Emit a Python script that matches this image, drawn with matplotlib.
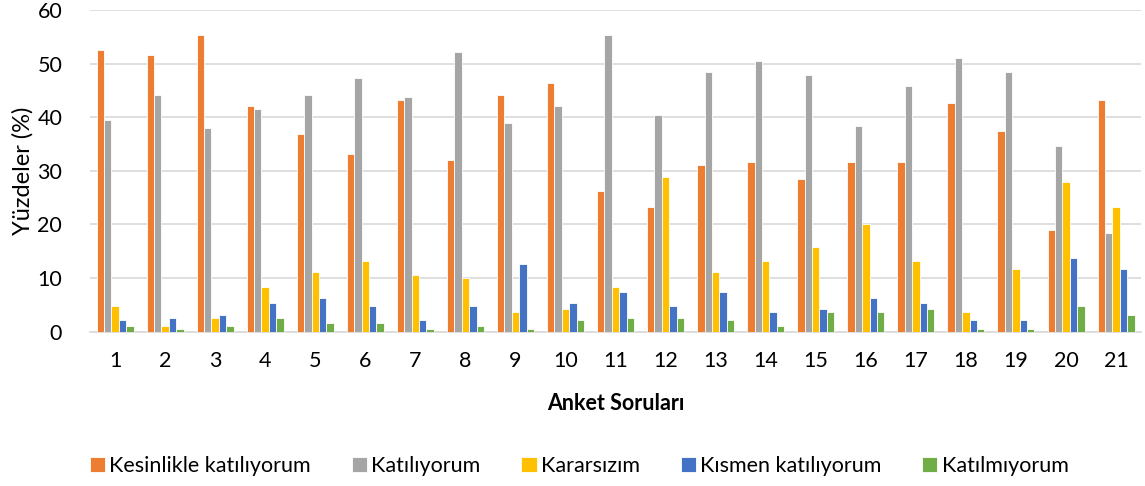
import numpy as np
import matplotlib.pyplot as plt

questions = [str(i) for i in range(1, 22)]
series_names = ["Kesinlikle katılıyorum", "Katılıyorum", "Kararsızım",
                "Kısmen katılıyorum", "Katılmıyorum"]
colors = ["#ED7D31", "#A5A5A5", "#FFC000", "#4472C4", "#70AD47"]

kesinlikle = [52.6, 51.6, 55.3, 42.1, 36.8, 33.2, 43.2, 32.1, 44.2, 46.3, 26.3,
              23.2, 31.1, 31.6, 28.4, 31.6, 31.6, 42.6, 37.4, 18.9, 43.2]
katiliyorum = [39.5, 44.2, 37.9, 41.6, 44.2, 47.4, 43.7, 52.1, 38.9, 42.1, 55.3,
               40.5, 48.4, 50.5, 47.9, 38.4, 45.8, 51.1, 48.4, 34.7, 18.4]
kararsizim = [4.8, 1.0, 2.6, 8.4, 11.1, 13.2, 10.5, 10.0, 3.7, 4.2, 8.4,
              28.9, 11.1, 13.2, 15.8, 20.0, 13.2, 3.7, 11.6, 27.9, 23.2]
kismen = [2.2, 2.6, 3.2, 5.3, 6.3, 4.7, 2.1, 4.7, 12.6, 5.3, 7.4,
          4.7, 7.4, 3.7, 4.2, 6.3, 5.3, 2.1, 2.1, 13.7, 11.6]
katilmiyorum = [1.0, 0.5, 1.0, 2.6, 1.6, 1.6, 0.5, 1.0, 0.5, 2.1, 2.6,
                2.6, 2.1, 1.0, 3.7, 3.7, 4.2, 0.5, 0.5, 4.7, 3.2]

data = [kesinlikle, katiliyorum, kararsizim, kismen, katilmiyorum]

plt.rcParams['font.family'] = ['Lato', 'DejaVu Sans']

fig = plt.figure(figsize=(11.45, 4.86), dpi=100)
ax = fig.add_axes([0.0786, 0.3175, 0.918, 0.662])

x = np.arange(len(questions))
w = 0.148
for i, (vals, name, c) in enumerate(zip(data, series_names, colors)):
    ax.bar(x + (i - 2) * w, vals, w, color=c, edgecolor="white",
           linewidth=0.6, label=name, zorder=3)

ax.set_xlim(-0.5, len(questions) - 0.5)
ax.set_ylim(0, 60)
ax.set_yticks(range(0, 61, 10))
ax.set_xticks(x)
ax.set_xticklabels(questions)
ax.yaxis.grid(True, color="#d9d9d9", linewidth=1.2, zorder=0)
for s in ["top", "right", "left"]:
    ax.spines[s].set_visible(False)
ax.spines["bottom"].set_color("#d9d9d9")
ax.spines["bottom"].set_linewidth(1.2)
ax.tick_params(axis="both", length=0, labelsize=15.5, colors="#000000")
ax.tick_params(axis="x", pad=14)
ax.tick_params(axis="y", pad=20)

ax.set_ylabel("Yüzdeler (%)", fontsize=17, labelpad=3)
ax.set_xlabel("Anket Soruları", fontsize=15.5, fontweight="bold", labelpad=16)

fig.legend(loc="center", bbox_to_anchor=(0.506, 0.041), ncol=5, frameon=False,
           fontsize=15.5, handlelength=0.7, handleheight=0.7,
           handletextpad=0.2, columnspacing=1.9)

fig.savefig("out.png", dpi=100)
